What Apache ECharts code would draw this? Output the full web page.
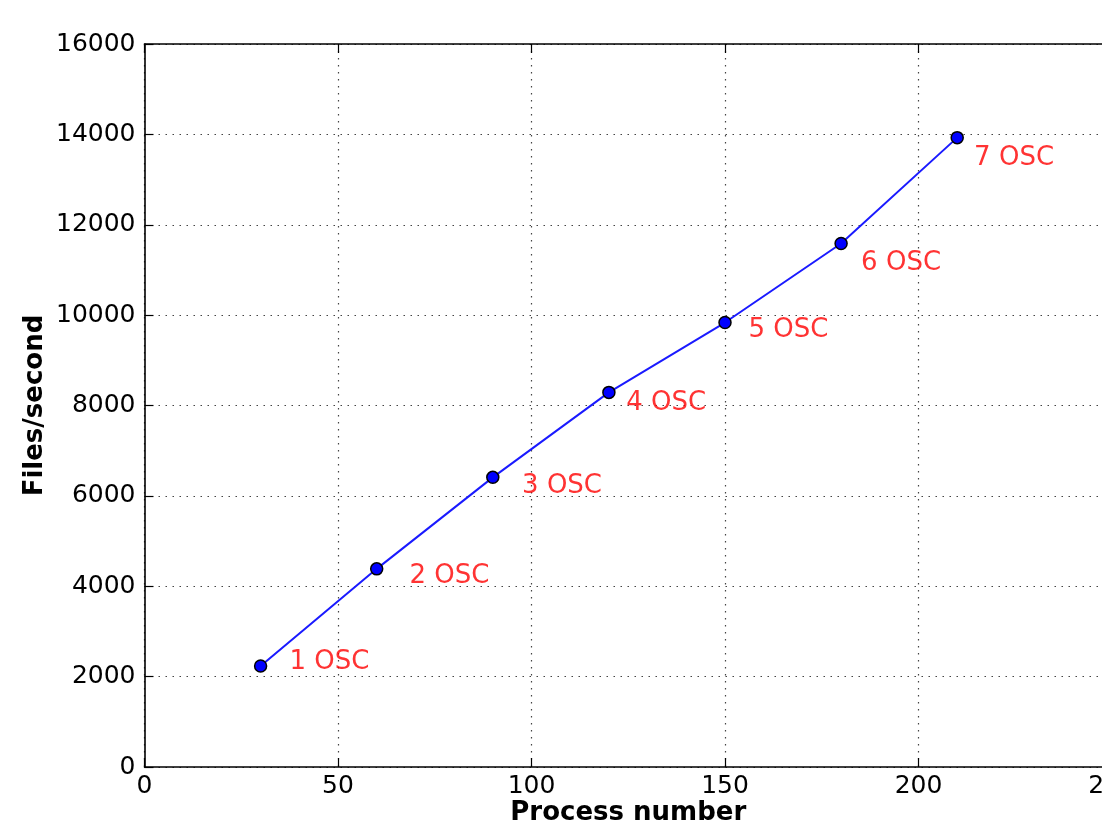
<!DOCTYPE html>
<html>
<head>
<meta charset="utf-8">
<script src="https://cdn.jsdelivr.net/npm/echarts@6/dist/echarts.min.js"></script>
<style>html,body{margin:0;padding:0;background:#fff}#c{width:1102px;height:823px}</style>
</head>
<body>
<div id="c"></div>
<script>
var processNumbers = [30, 60, 90, 120, 150, 180, 210];
var filesPerSecond = [2235, 4385, 6410, 8290, 9836, 11584, 13928];
var labelTexts = ['1 OSC', '2 OSC', '3 OSC', '4 OSC', '5 OSC', '6 OSC', '7 OSC'];
var labelX = [37.6, 68.6, 97.7, 124.6, 156.2, 185.3, 214.5];
var labelY = [2312, 4207, 6201, 8041, 9655, 11142, 13453];
var xTicks = {min: 0, max: 250, interval: 50};
var yTicks = {min: 0, max: 16000, interval: 2000};

var font = 'DejaVu Sans';
var chart = echarts.init(document.getElementById('c'), null, {renderer: 'canvas'});
function axisLine() { return {show: true, onZero: false, lineStyle: {color: '#000', width: 1.6}}; }
function tick() { return {show: true, inside: true, length: 9, lineStyle: {color: '#000', width: 1.2}}; }
function split() { return {show: true, lineStyle: {color: '#444', width: 1.2, type: [1.5, 5.5]}}; }
var plain = function (v) { return String(v); };
chart.setOption({
  animation: false,
  backgroundColor: '#fff',
  grid: {left: 144.5, right: -10, top: 44, bottom: 56, containLabel: false, outerBoundsMode: 'none'},
  xAxis: [{
    type: 'value', position: 'bottom', min: xTicks.min, max: xTicks.max, interval: xTicks.interval,
    name: 'Process number', nameLocation: 'middle', nameGap: 33, nameMoveOverlap: false,
    nameTextStyle: {fontFamily: font, fontWeight: 'bold', fontSize: 26, color: '#000'},
    axisLine: axisLine(), axisTick: tick(), splitLine: split(),
    axisLabel: {fontFamily: font, fontSize: 25, color: '#000', margin: 7, formatter: plain}
  }, {
    type: 'value', position: 'top', min: xTicks.min, max: xTicks.max, interval: xTicks.interval,
    axisLine: axisLine(), axisTick: tick(), splitLine: {show: false}, axisLabel: {show: false}
  }],
  yAxis: [{
    type: 'value', position: 'left', min: yTicks.min, max: yTicks.max, interval: yTicks.interval,
    name: 'Files/second', nameLocation: 'middle', nameGap: 96, nameMoveOverlap: false,
    nameTextStyle: {fontFamily: font, fontWeight: 'bold', fontSize: 26, color: '#000'},
    axisLine: axisLine(), axisTick: tick(), splitLine: split(),
    axisLabel: {fontFamily: font, fontSize: 25, color: '#000', margin: 9, formatter: plain}
  }, {
    type: 'value', position: 'right', min: yTicks.min, max: yTicks.max, interval: yTicks.interval,
    axisLine: axisLine(), axisTick: tick(), splitLine: {show: false}, axisLabel: {show: false}
  }],
  series: [{
    type: 'line',
    data: processNumbers.map(function (x, i) { return [x, filesPerSecond[i]]; }),
    lineStyle: {color: '#1a1aff', width: 2},
    symbol: 'circle', symbolSize: 12,
    itemStyle: {color: '#0000ff', borderColor: '#000', borderWidth: 1.5},
    z: 3
  }, {
    type: 'scatter',
    data: labelX.map(function (x, i) { return [x, labelY[i], labelTexts[i]]; }),
    symbol: 'circle', symbolSize: 1,
    itemStyle: {color: 'rgba(0,0,0,0)'},
    label: {
      show: true, position: [0, 0], align: 'left', verticalAlign: 'middle',
      formatter: function (p) { return p.data[2]; },
      fontFamily: font, fontSize: 26, color: '#ff0000'
    },
    z: 4
  }]
});
</script>
</body>
</html>
